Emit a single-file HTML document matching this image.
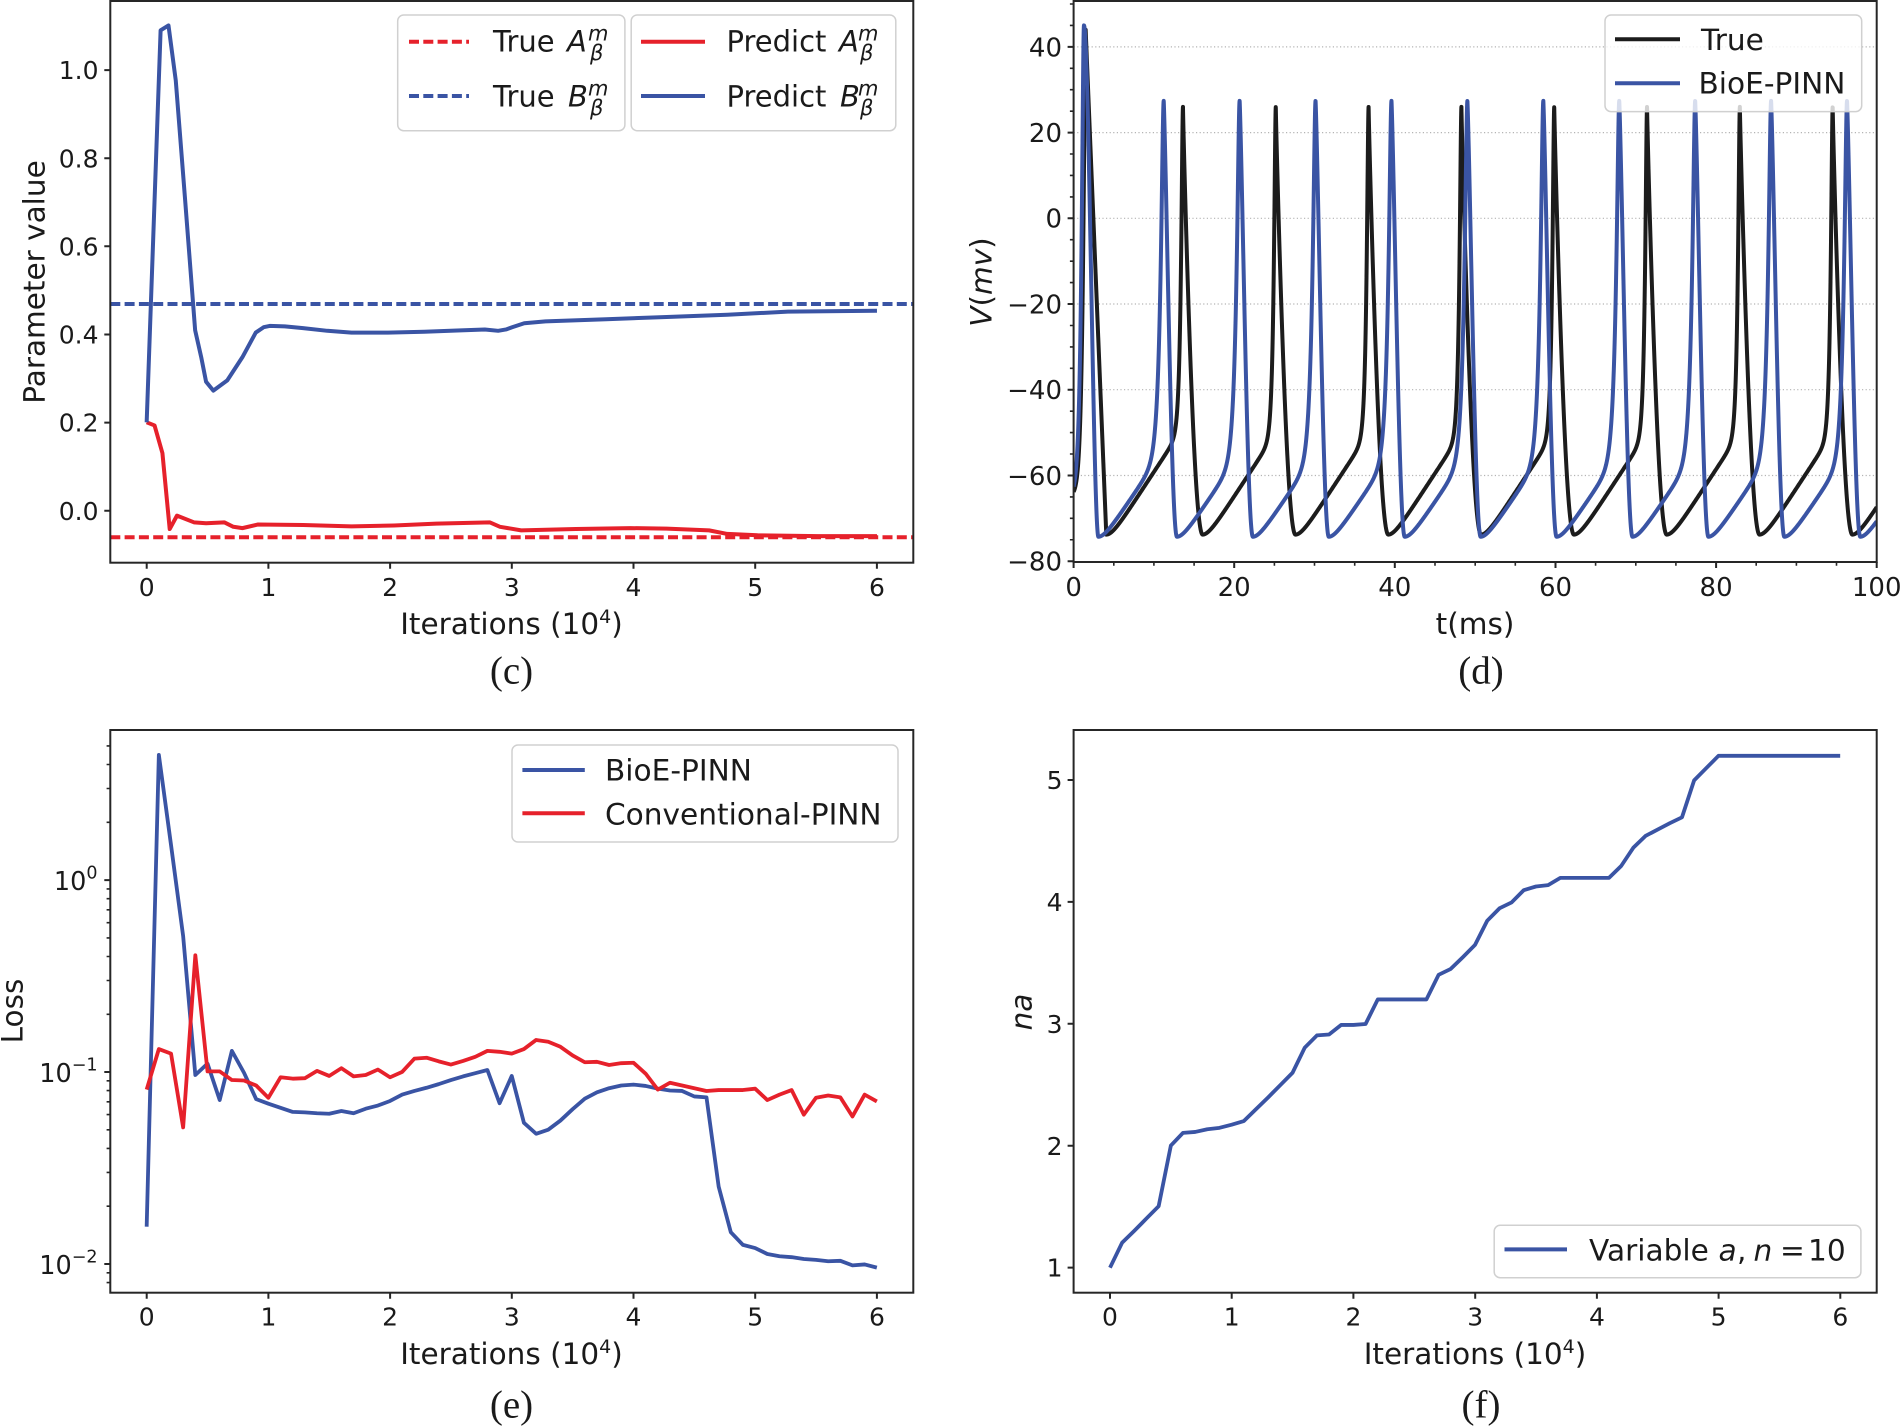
<!DOCTYPE html>
<html><head><meta charset="utf-8">
<style>html,body{margin:0;padding:0;background:#fff}svg{display:block}</style>
</head><body>
<svg width="1900" height="1427" viewBox="0 0 1900 1427" xmlns="http://www.w3.org/2000/svg" font-family="'DejaVu Sans', 'Liberation Sans', sans-serif" fill="#1a1a1a">
<defs>
<clipPath id="cc"><rect x="110.3" y="1" width="803" height="561.7"/></clipPath>
<clipPath id="cd"><rect x="1073.6" y="1" width="803.1" height="561"/></clipPath>
<clipPath id="ce"><rect x="110.3" y="730" width="803" height="563"/></clipPath>
<clipPath id="cf"><rect x="1073.6" y="730" width="803.1" height="563"/></clipPath>
</defs>
<rect width="1900" height="1427" fill="#fff"/>

<!-- ================= Panel (c) ================= -->
<g clip-path="url(#cc)">
<line x1="110.3" y1="537.2" x2="913.3" y2="537.2" stroke="#e6212b" stroke-width="4" stroke-dasharray="10 4.3"/>
<line x1="110.3" y1="304.0" x2="913.3" y2="304.0" stroke="#3a54a4" stroke-width="4" stroke-dasharray="10 4.3"/>
<g transform="matrix(0.60606 0 0 0.446429 0 0)">
<polyline fill="none" stroke="#e6212b" stroke-width="4" vector-effect="non-scaling-stroke" stroke-linejoin="round" points="242,946 255,953 268,1015 280,1185 292,1155 320,1170 340,1172 370,1170 385,1180 400,1183 425,1175 500,1176 580,1179 650,1177 720,1173 808,1170 825,1180 860,1188 950,1185 1040,1183 1100,1184 1170,1188 1200,1196 1250,1199 1350,1201 1447,1201"/>
<polyline fill="none" stroke="#3a54a4" stroke-width="4" vector-effect="non-scaling-stroke" stroke-linejoin="round" points="242,946 265,68 278,57 290,180 305,440 322,740 332,800 340,855 352,875 375,852 400,800 422,745 435,733 445,730 470,731 500,735 540,741 580,745 640,745 700,743 760,740 800,738 822,741 835,738 845,733 865,724 900,720 1000,715 1100,710 1200,705 1300,698 1447,696"/>
</g>
</g>
<rect x="110.3" y="1" width="803" height="561.7" fill="none" stroke="#262626" stroke-width="2"/>
<path d="M110.3 510.7h-6M110.3 422.6h-6M110.3 334.5h-6M110.3 246.3h-6M110.3 158.2h-6M110.3 70.1h-6M146.7 562.7v6M268.4 562.7v6M390.1 562.7v6M511.8 562.7v6M633.5 562.7v6M755.2 562.7v6M876.9 562.7v6" stroke="#262626" stroke-width="2"/>
<g font-size="25" text-anchor="end">
<text x="98.5" y="519.8">0.0</text><text x="98.5" y="431.7">0.2</text><text x="98.5" y="343.6">0.4</text><text x="98.5" y="255.4">0.6</text><text x="98.5" y="167.3">0.8</text><text x="98.5" y="79.2">1.0</text>
</g>
<g font-size="25" text-anchor="middle">
<text x="146.7" y="596">0</text><text x="268.4" y="596">1</text><text x="390.1" y="596">2</text><text x="511.8" y="596">3</text><text x="633.5" y="596">4</text><text x="755.2" y="596">5</text><text x="876.9" y="596">6</text>
</g>
<text x="511.5" y="634" font-size="29.5" text-anchor="middle">Iterations (10<tspan font-size="19" dy="-11">4</tspan><tspan dy="11">)</tspan></text>
<text transform="translate(44.5,282) rotate(-90)" font-size="29.5" text-anchor="middle">Parameter value</text>
<!-- legends c -->
<rect x="397.7" y="15" width="227.2" height="115.7" rx="6" fill="#fff" fill-opacity="0.8" stroke="#d0d0d0" stroke-width="1.5"/>
<rect x="631.2" y="15" width="264.6" height="115.7" rx="6" fill="#fff" fill-opacity="0.8" stroke="#d0d0d0" stroke-width="1.5"/>
<line x1="409" y1="41.7" x2="469" y2="41.7" stroke="#e6212b" stroke-width="4" stroke-dasharray="10 4.3"/>
<line x1="409" y1="96" x2="469" y2="96" stroke="#3a54a4" stroke-width="4" stroke-dasharray="10 4.3"/>
<line x1="641" y1="41.7" x2="705" y2="41.7" stroke="#e6212b" stroke-width="4"/>
<line x1="641" y1="96" x2="705" y2="96" stroke="#3a54a4" stroke-width="4"/>
<g font-size="29">
<text x="493" y="51.7">True</text><text x="567" y="51.7" font-style="italic">A</text><text x="588" y="40.5" font-size="21" font-style="italic">m</text><text x="590" y="60" font-size="21" font-style="italic">β</text>
<text x="493" y="106.7">True</text><text x="568" y="106.7" font-style="italic">B</text><text x="588" y="95.5" font-size="21" font-style="italic">m</text><text x="590" y="115" font-size="21" font-style="italic">β</text>
<text x="726.5" y="51.7">Predict</text><text x="839" y="51.7" font-style="italic">A</text><text x="858" y="40.5" font-size="21" font-style="italic">m</text><text x="860" y="60" font-size="21" font-style="italic">β</text>
<text x="726.5" y="106.7">Predict</text><text x="840" y="106.7" font-style="italic">B</text><text x="858" y="95.5" font-size="21" font-style="italic">m</text><text x="860" y="115" font-size="21" font-style="italic">β</text>
</g>
<text x="511.5" y="683.6" font-family="'Liberation Serif', serif" font-size="39" text-anchor="middle">(c)</text>

<!-- ================= Panel (d) ================= -->
<path d="M1073.6 46.9H1876.7M1073.6 132.6H1876.7M1073.6 218.3H1876.7M1073.6 304H1876.7M1073.6 389.7H1876.7M1073.6 475.5H1876.7" stroke="#b4b4b4" stroke-width="1.2" stroke-dasharray="1.2 2.4"/>
<g clip-path="url(#cd)">
<polyline id="dk" fill="none" stroke="#1c1c1c" stroke-width="4" stroke-linejoin="round" points=""/>
<polyline id="db" fill="none" stroke="#3a54a4" stroke-width="4" stroke-linejoin="round" points=""/>
</g>
<rect x="1073.6" y="1" width="803.1" height="561" fill="none" stroke="#262626" stroke-width="2"/>
<path d="M1073.6 561.2h-6M1073.6 475.5h-6M1073.6 389.7h-6M1073.6 304h-6M1073.6 218.3h-6M1073.6 132.6h-6M1073.6 46.9h-6M1073.6 562v6M1234.2 562v6M1394.8 562v6M1555.5 562v6M1716.1 562v6M1876.7 562v6" stroke="#262626" stroke-width="2"/>
<path d="M1073.6 539.75h-3.7M1073.6 518.3h-3.7M1073.6 496.9h-3.7M1073.6 454h-3.7M1073.6 432.6h-3.7M1073.6 411.2h-3.7M1073.6 368.3h-3.7M1073.6 346.9h-3.7M1073.6 325.5h-3.7M1073.6 282.6h-3.7M1073.6 261.2h-3.7M1073.6 239.7h-3.7M1073.6 196.9h-3.7M1073.6 175.4h-3.7M1073.6 154h-3.7M1073.6 111.2h-3.7M1073.6 89.7h-3.7M1073.6 68.3h-3.7M1073.6 25.4h-3.7M1073.6 4h-3.7M1113.8 562v3.7M1153.9 562v3.7M1194.1 562v3.7M1274.4 562v3.7M1314.5 562v3.7M1354.7 562v3.7M1435 562v3.7M1475.2 562v3.7M1515.3 562v3.7M1595.6 562v3.7M1635.8 562v3.7M1675.9 562v3.7M1756.2 562v3.7M1796.4 562v3.7M1836.5 562v3.7" stroke="#262626" stroke-width="1.6"/>
<g font-size="26" text-anchor="end">
<text x="1062" y="570.6">−80</text><text x="1062" y="484.9">−60</text><text x="1062" y="399.1">−40</text><text x="1062" y="313.4">−20</text><text x="1062" y="227.7">0</text><text x="1062" y="142">20</text><text x="1062" y="56.3">40</text>
</g>
<g font-size="26" text-anchor="middle">
<text x="1073.6" y="596">0</text><text x="1234.2" y="596">20</text><text x="1394.8" y="596">40</text><text x="1555.5" y="596">60</text><text x="1716.1" y="596">80</text><text x="1876.7" y="596">100</text>
</g>
<text x="1475" y="634" font-size="29.5" text-anchor="middle">t(ms)</text>
<text transform="translate(991.5,282) rotate(-90)" font-size="29.5" text-anchor="middle"><tspan font-style="italic">V</tspan>(<tspan font-style="italic">mv</tspan>)</text>
<rect x="1605" y="15" width="256.7" height="96.6" rx="6" fill="#fff" fill-opacity="0.8" stroke="#d0d0d0" stroke-width="1.5"/>
<line x1="1615" y1="39.3" x2="1680" y2="39.3" stroke="#1c1c1c" stroke-width="4"/>
<line x1="1615" y1="83.3" x2="1680" y2="83.3" stroke="#3a54a4" stroke-width="4"/>
<g font-size="29.6"><text x="1701" y="50">True</text><text x="1698.5" y="93.3">BioE-PINN</text></g>
<text x="1481" y="683.6" font-family="'Liberation Serif', serif" font-size="39" text-anchor="middle">(d)</text>

<!-- ================= Panel (e) ================= -->
<g clip-path="url(#ce)">
<g transform="matrix(0.60606 0 0 0.455373 0 713)">
<polyline fill="none" stroke="#3a54a4" stroke-width="3.8" vector-effect="non-scaling-stroke" stroke-linejoin="round" points="242,1128 262.1,92 282.2,290 302.2,490 322.3,795 342.4,770 362.5,850 382.6,742 402.6,790 422.7,848 442.8,858 462.9,867 483,876 503,877 523.1,879 543.2,880 563.3,874 583.4,879 603.4,869 623.5,862 643.6,852 663.7,838 683.8,830 703.8,823 723.9,815 744,806 764.1,798 784.2,791 804.2,784 824.3,857 844.4,797 864.5,900 884.6,924 904.6,915 924.7,895 944.8,870 964.9,847 985,833 1005,824 1025.1,818 1045.2,816 1065.3,819 1085.4,825 1105.4,829 1125.5,830 1145.6,842 1165.7,844 1185.8,1040 1205.8,1140 1225.9,1168 1246,1175 1266.1,1188 1286.2,1193 1306.2,1195 1326.3,1199 1346.4,1201 1366.5,1204 1386.6,1203 1406.6,1213 1426.7,1211 1446.8,1218"/>
<polyline fill="none" stroke="#e6212b" stroke-width="3.8" vector-effect="non-scaling-stroke" stroke-linejoin="round" points="242,827 262.1,738 282.2,748 302.2,910 322.3,532 342.4,787 362.5,787 382.6,806 402.6,807 422.7,818 442.8,845 462.9,800 483,803 503,802 523.1,786 543.2,797 563.3,780 583.4,798 603.4,795 623.5,783 643.6,800 663.7,788 683.8,759 703.8,757 723.9,765 744,772 764.1,764 784.2,755 804.2,742 824.3,744 844.4,748 864.5,738 884.6,718 904.6,722 924.7,733 944.8,752 964.9,767 985,766 1005,773 1025.1,769 1045.2,768 1065.3,792 1085.4,827 1105.4,812 1125.5,818 1145.6,824 1165.7,830 1185.8,828 1205.8,828 1225.9,828 1246,825 1266.1,850 1286.2,838 1306.2,828 1326.3,882 1346.4,845 1366.5,840 1386.6,844 1406.6,886 1426.7,838 1446.8,853"/>
</g>
</g>
<rect x="110.3" y="730" width="803" height="562.7" fill="none" stroke="#262626" stroke-width="2"/>
<path d="M110.3 880.1h-6M110.3 1072.05h-6M110.3 1264h-6M146.7 1292.7v6M268.4 1292.7v6M390.1 1292.7v6M511.8 1292.7v6M633.5 1292.7v6M755.2 1292.7v6M876.9 1292.7v6" stroke="#262626" stroke-width="2"/>
<path d="M110.3 822.3h-3.7M110.3 788.5h-3.7M110.3 764.5h-3.7M110.3 745.9h-3.7M110.3 1014.3h-3.7M110.3 980.5h-3.7M110.3 956.5h-3.7M110.3 937.9h-3.7M110.3 922.7h-3.7M110.3 909.8h-3.7M110.3 898.7h-3.7M110.3 888.9h-3.7M110.3 1206.2h-3.7M110.3 1172.4h-3.7M110.3 1148.4h-3.7M110.3 1129.8h-3.7M110.3 1114.6h-3.7M110.3 1101.8h-3.7M110.3 1090.6h-3.7M110.3 1080.8h-3.7M110.3 1282.6h-3.7M110.3 1272.8h-3.7" stroke="#262626" stroke-width="1.6"/>
<g font-size="25.5" text-anchor="end">
<text x="97.5" y="890">10<tspan font-size="17.5" dy="-11.5">0</tspan></text>
<text x="97.5" y="1082">10<tspan font-size="17.5" dy="-11.5">−1</tspan></text>
<text x="97.5" y="1274">10<tspan font-size="17.5" dy="-11.5">−2</tspan></text>
</g>
<g font-size="25" text-anchor="middle">
<text x="146.7" y="1325.5">0</text><text x="268.4" y="1325.5">1</text><text x="390.1" y="1325.5">2</text><text x="511.8" y="1325.5">3</text><text x="633.5" y="1325.5">4</text><text x="755.2" y="1325.5">5</text><text x="876.9" y="1325.5">6</text>
</g>
<text x="511.5" y="1364" font-size="29.5" text-anchor="middle">Iterations (10<tspan font-size="19" dy="-11">4</tspan><tspan dy="11">)</tspan></text>
<text transform="translate(22.5,1011) rotate(-90)" font-size="29.5" text-anchor="middle">Loss</text>
<rect x="512" y="745" width="386" height="97" rx="6" fill="#fff" fill-opacity="0.8" stroke="#d0d0d0" stroke-width="1.5"/>
<line x1="522.4" y1="770" x2="584.8" y2="770" stroke="#3a54a4" stroke-width="4"/>
<line x1="522.4" y1="813.2" x2="584.8" y2="813.2" stroke="#e6212b" stroke-width="4"/>
<g font-size="29.6"><text x="605" y="780.4">BioE-PINN</text><text x="605" y="824.6">Conventional-PINN</text></g>
<text x="511.5" y="1417.6" font-family="'Liberation Serif', serif" font-size="39" text-anchor="middle">(e)</text>

<!-- ================= Panel (f) ================= -->
<g clip-path="url(#cf)">
<g transform="matrix(0.60606 0 0 0.455373 950 713)">
<polyline fill="none" stroke="#3a54a4" stroke-width="3.8" vector-effect="non-scaling-stroke" stroke-linejoin="round" points="264,1218 284.1,1163 304.2,1137 324.2,1110 344.3,1083 364.4,950 384.5,922 404.6,920 424.6,914 444.7,911 464.8,904 484.9,896 505,870 525,844 545.1,817 565.2,790 585.3,735 605.4,708 625.4,706 645.5,685 665.6,685 685.7,683 705.8,629 725.8,629 745.9,629 766,629 786.1,629 806.2,575 826.2,562 846.3,536 866.4,509 886.5,456 906.6,429 926.6,416 946.7,389 966.8,381 986.9,378 1007,362 1027,362 1047.1,362 1067.2,362 1087.3,362 1107.4,336 1127.4,296 1147.5,270 1167.6,256 1187.7,242 1207.8,229 1227.8,148 1247.9,121 1268,94 1468.8,94"/>
</g>
</g>
<rect x="1073.6" y="730" width="803.1" height="562.7" fill="none" stroke="#262626" stroke-width="2"/>
<path d="M1073.6 1267.6h-6M1073.6 1145.7h-6M1073.6 1023.8h-6M1073.6 901.9h-6M1073.6 780h-6M1110 1292.7v6M1231.7 1292.7v6M1353.4 1292.7v6M1475.2 1292.7v6M1596.9 1292.7v6M1718.6 1292.7v6M1840.3 1292.7v6" stroke="#262626" stroke-width="2"/>
<g font-size="25" text-anchor="end">
<text x="1062.5" y="1276.7">1</text><text x="1062.5" y="1154.8">2</text><text x="1062.5" y="1032.9">3</text><text x="1062.5" y="911">4</text><text x="1062.5" y="789.1">5</text>
</g>
<g font-size="25" text-anchor="middle">
<text x="1110" y="1325.5">0</text><text x="1231.7" y="1325.5">1</text><text x="1353.4" y="1325.5">2</text><text x="1475.2" y="1325.5">3</text><text x="1596.9" y="1325.5">4</text><text x="1718.6" y="1325.5">5</text><text x="1840.3" y="1325.5">6</text>
</g>
<text x="1475" y="1364" font-size="29.5" text-anchor="middle">Iterations (10<tspan font-size="19" dy="-11">4</tspan><tspan dy="11">)</tspan></text>
<text transform="translate(1031.5,1012) rotate(-90)" font-size="29.5" text-anchor="middle" font-style="italic">na</text>
<rect x="1494.2" y="1225.3" width="366.7" height="52.4" rx="6" fill="#fff" fill-opacity="0.8" stroke="#d0d0d0" stroke-width="1.5"/>
<line x1="1504.5" y1="1249.4" x2="1567" y2="1249.4" stroke="#3a54a4" stroke-width="4"/>
<g font-size="29.6">
<text x="1589" y="1260.4">Variable</text>
<text x="1718.5" y="1260.4" font-style="italic">a</text>
<text x="1737" y="1260.4">,</text>
<text x="1753.5" y="1260.4" font-style="italic">n</text>
<text x="1780" y="1260.4">=</text>
<text x="1808" y="1260.4">10</text>
</g>
<text x="1481" y="1417.6" font-family="'Liberation Serif', serif" font-size="39" text-anchor="middle">(f)</text>
</svg>
<script>
(function(){
  function X(t){return 1073.6+8.031*t;}
  function Y(v){return 218.3-4.286*v;}
  function fallF(u,pk){
    if(pk.sh==='lin') return u;
    if(pk.sh==='sm') return u*u*(3-2*u);
    return Math.pow(Math.sin(Math.PI/2*u),pk.p);
  }
  function gen(P,Vmin,k){
    var pts=[];
    for(var n=0;n<=10000;n++){
      var t=n*0.01, i=-1;
      for(var j=0;j<P.length;j++){ if(P[j].t<=t) i=j; }
      var prev=i>=0?P[i]:null, next=P[i+1]||null, v;
      if(prev && t-prev.t<prev.df){
        var u=(t-prev.t)/prev.df;
        v=prev.v+(Vmin-prev.v)*fallF(u,prev);
      } else {
        var vb;
        if(prev){ var s=t-prev.t-prev.df; vb=Vmin+k*(s-0.8*(1-Math.exp(-s/0.8))); }
        else vb=-65;
        if(next){ var r=next.t-t; var c=next.c; var re=Math.sqrt(r*r+c*c)-c; vb=vb+(next.v-vb)*Math.exp(-re/next.tau); }
        v=vb;
      }
      pts.push(X(t).toFixed(2)+','+Y(v).toFixed(2));
    }
    return pts.join(' ');
  }
  var Pb=[{t:1.29,v:45,df:1.8,sh:'sm',tau:0.3,c:0.15}], Pk=[{t:1.5,v:44,df:2.57,sh:'lin',tau:0.3,c:0.15}], k;
  for(k=0;k<10;k++) Pb.push({t:11.22+9.454*k,v:27.4,df:1.65,sh:'sin',p:1.2,tau:0.4,c:0.15});
  for(k=0;k<8;k++) Pk.push({t:13.62+11.557*k,v:26.0,df:2.45,sh:'sin',p:0.9,tau:0.25,c:0.1});
  document.getElementById('dk').setAttribute('points',gen(Pk,-73.8,2.85));
  document.getElementById('db').setAttribute('points',gen(Pb,-74.3,2.75));
})();
</script>
</body></html>
